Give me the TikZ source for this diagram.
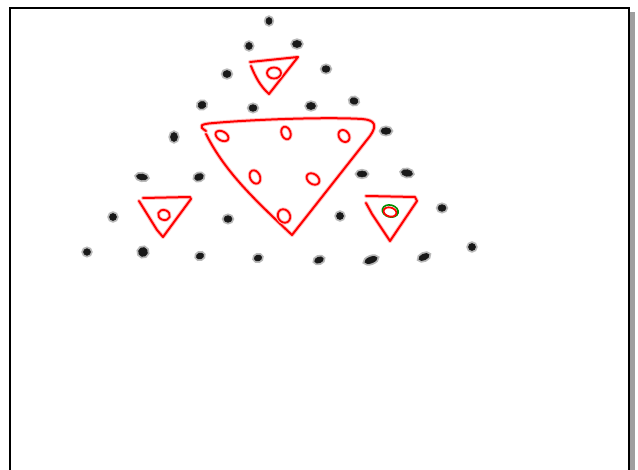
\documentclass[tikz,border=0pt]{standalone}
\usetikzlibrary{calc}

\begin{document}
\begin{tikzpicture}[
    x=1pt, y=-1pt,
    dothalo/.style={
        draw=gray!55,
        fill=gray!55,
        line width=4.2pt
    },
    dotmark/.style={
        fill=black!90,
        draw=black!90,
        line width=0.6pt
    },
    redhalo/.style={
        draw=red!25,
        line width=4pt,
        line cap=round,
        line join=round
    },
    redstroke/.style={
        draw=red,
        line width=2pt,
        line cap=round,
        line join=round
    },
    greenstroke/.style={
        draw=green!55!black,
        line width=1.6pt
    }
]
    \useasboundingbox (0,0) rectangle (638,470);

    % --- Frame with shadow ---
    \fill[gray!75] (630,12) rectangle (635,470);
    \draw[line width=2pt] (10,470) -- (10,8) -- (629,8) -- (629,470);

    % --- Black dots ---
    \foreach \x/\y/\a/\b/\r in {
        269/21/3/3.5/0,
        249/46/3.3/3.5/0, 297/44/4.5/3.5/0,
        227/74/4/3.5/0, 326/69/4/3.3/0,
        202/105/4/3.5/20, 253/108/4/3.3/0, 311/106/4.5/3.5/0, 354/101/4/3.3/-15,
        174/137/3.5/4.5/0, 386/131/5/3.3/0,
        142/177/5.5/3/-10, 199/177/4.5/3.3/20, 362/174/5/3/0, 407/173/5.5/3.3/-10,
        113/217/3.5/3.5/0, 228/219/4/3.3/0, 340/216/3.5/3.5/0, 442/208/4/3.3/0,
        87/252/3.5/3.3/0, 143/252/4.5/4.5/30, 200/256/3.7/3/20, 258/258/3.7/3/15,
        319/260/4.5/3/20, 371/260/6.5/3/20, 424/257/5.5/3/25, 472/247/3.5/3.5/0
    }{
        \draw[dothalo, rotate around={\r:(\x,\y)}] (\x,\y) ellipse [x radius=\a, y radius=\b];
        \draw[dotmark, rotate around={\r:(\x,\y)}] (\x,\y) ellipse [x radius=\a, y radius=\b];
    }

    % --- Big triangle ---
    \foreach \s in {redhalo, redstroke}{
        \draw[\s] (206,131) .. controls (198,126) and (200,124) .. (214,123)
            .. controls (260,119) and (330,117) .. (362,119)
            .. controls (376,120) and (377,126) .. (370,136)
            -- (292,235)
            .. controls (255,200) and (225,172) .. (206,134);
    }

    % --- Top small triangle ---
    \foreach \s in {redhalo, redstroke}{
        \draw[\s] (250,62) -- (298,57) -- (269,94) .. controls (260,86) and (255,76) .. (251,66);
    }

    % --- Left small triangle ---
    \foreach \s in {redhalo, redstroke}{
        \draw[\s] (143,198) -- (190,197) -- (191,199) -- (163,237) -- (157,230) -- (139,201);
    }

    % --- Right small triangle ---
    \foreach \s in {redhalo, redstroke}{
        \draw[\s] (366,196) -- (415,197) -- (417,201) -- (390,241);
        \draw[\s] (390,241) -- (372,214) -- (366,203);
    }

    % --- Red ovals ---
    \foreach \x/\y/\a/\b/\r in {
        274/73/7/5.5/0,
        164/215/6/5/-20,
        222/136/7/4.5/-30, 286/133/4.5/6.5/20, 344/136/5/6.5/35,
        255/177/5/7/25, 313/179/7/5/-35, 284/216/6/7/30
    }{
        \draw[redhalo, line width=3.6pt, rotate around={\r:(\x,\y)}] (\x,\y) ellipse [x radius=\a, y radius=\b];
        \draw[redstroke, line width=1.8pt, rotate around={\r:(\x,\y)}] (\x,\y) ellipse [x radius=\a, y radius=\b];
    }

    % --- Marked oval ---
    \draw[greenstroke, rotate around={-15:(390,212)}] (390,211) ellipse [x radius=8, y radius=6];
    \draw[redstroke, line width=1.8pt, rotate around={-15:(390,212)}] (390,212) ellipse [x radius=6.5, y radius=4.5];

\end{tikzpicture}
\end{document}
